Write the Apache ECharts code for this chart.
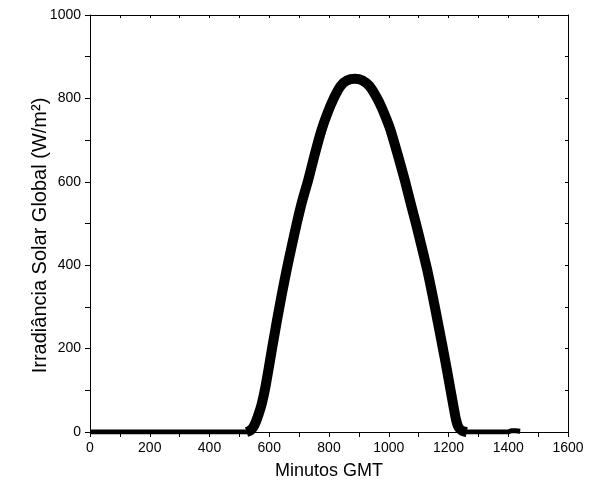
<!DOCTYPE html>
<html>
<head>
<meta charset="utf-8">
<script src="https://cdn.jsdelivr.net/npm/echarts@6/dist/echarts.min.js"></script>
<style>
  html, body { margin: 0; padding: 0; background: #fff; }
  #chart { width: 593px; height: 499px; }
</style>
</head>
<body>
<div id="chart"></div>
<script>
// valores (minutos GMT, W/m2)
const minutosDia = [524, 535, 545, 555, 565, 575, 585, 597, 610, 626, 642, 658, 675, 692, 710, 730, 752, 774, 795, 817, 839, 860, 887, 912, 935, 955, 975, 1004, 1030, 1054, 1072, 1091, 1110, 1129, 1146, 1163, 1180, 1195, 1207, 1217, 1225, 1233, 1245, 1261]
const irradDia = [0, 3, 10, 24, 44, 68, 100, 148, 203, 268, 330, 388, 445, 500, 553, 603, 665, 722, 765, 802, 830, 843, 847, 843, 830, 808, 780, 728, 665, 603, 552, 500, 445, 388, 330, 268, 205, 148, 100, 60, 30, 12, 3, 0]

const minutosNoite1 = [0, 100, 200, 300, 400, 500, 530]
const irradNoite1 = [0, 0, 0, 0, 0, 0, 0]
const minutosNoite2 = [1255, 1300, 1350, 1400, 1410, 1425, 1440]
const irradNoite2 = [0, 0, 0, 0, 3, 3, 2]

const pares = (xs, ys) => xs.map((x, i) => [x, ys[i]])

const fonte = '"Liberation Sans", Arial, sans-serif'
const preto = '#000'

const chart = echarts.init(document.getElementById('chart'))

let option = {
  animation: false,
  backgroundColor: '#fff',
  grid: {left: 90, right: 25, top: 15, bottom: 67},
  xAxis: [{
    type: 'value',
    position: 'bottom',
    min: 0,
    max: 1600,
    interval: 100,
    name: 'Minutos GMT',
    nameLocation: 'middle',
    nameGap: 30,
    nameMoveOverlap: false,
    nameTextStyle: {color: preto, fontFamily: fonte, fontSize: 18},
    axisLine: {onZero: false, lineStyle: {color: preto, width: 1}},
    axisTick: {length: 5, lineStyle: {color: preto}},
    axisLabel: {
      color: preto, fontFamily: fonte, fontSize: 14, margin: 9,
      formatter: v => (v % 200 === 0 ? v : '')
    },
    splitLine: {show: false}
  }, {
    type: 'value',
    position: 'top',
    min: 0,
    max: 1600,
    interval: 100,
    axisLine: {onZero: false, lineStyle: {color: preto, width: 1}},
    axisTick: {inside: true, length: 3, lineStyle: {color: preto}},
    axisLabel: {show: false},
    splitLine: {show: false}
  }],
  yAxis: [{
    type: 'value',
    position: 'left',
    min: 0,
    max: 1000,
    interval: 100,
    name: 'Irradiância Solar Global (W/m²)',
    nameLocation: 'middle',
    nameGap: 40,
    nameMoveOverlap: false,
    nameTextStyle: {color: preto, fontFamily: fonte, fontSize: 20, padding: [0, 24, 0, 0]},
    axisLine: {onZero: false, lineStyle: {color: preto, width: 1}},
    axisTick: {length: 5, lineStyle: {color: preto}},
    axisLabel: {
      color: preto, fontFamily: fonte, fontSize: 14, margin: 9,
      formatter: v => (v % 200 === 0 ? v : '')
    },
    splitLine: {show: false}
  }, {
    type: 'value',
    position: 'right',
    min: 0,
    max: 1000,
    interval: 100,
    axisLine: {onZero: false, lineStyle: {color: preto, width: 1}},
    axisTick: {inside: true, length: 3, lineStyle: {color: preto}},
    axisLabel: {show: false},
    splitLine: {show: false}
  }],
  series: [{
    type: 'line',
    data: pares(minutosNoite1, irradNoite1),
    showSymbol: false,
    lineStyle: {color: preto, width: 5},
    z: 3
  }, {
    type: 'line',
    data: pares(minutosNoite2, irradNoite2),
    showSymbol: false,
    lineStyle: {color: preto, width: 5},
    z: 3
  }, {
    type: 'line',
    data: pares(minutosDia, irradDia),
    showSymbol: false,
    smooth: 0.2,
    lineStyle: {color: preto, width: 10, cap: 'butt', join: 'round'},
    z: 3
  }]
}
option && chart.setOption(option)
</script>
</body>
</html>
